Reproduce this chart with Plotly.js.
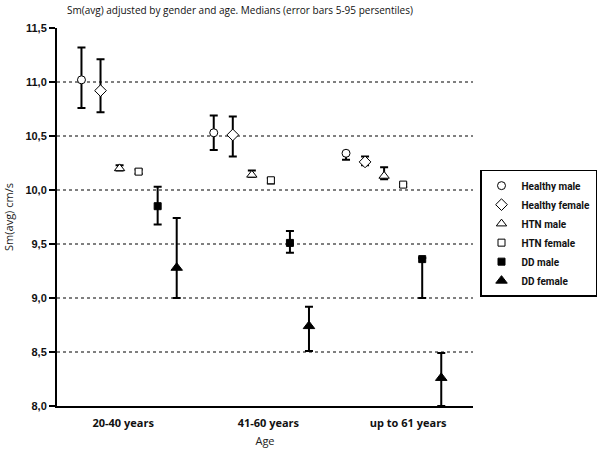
<!DOCTYPE html>
<html>
<head>
<meta charset="utf-8">
<script src="https://cdn.plot.ly/plotly-3.0.1.min.js"></script>
<style>html,body{margin:0;padding:0;background:#fff;}#chart{width:600px;height:450px;}</style>
</head>
<body>
<div id="chart"></div>
<script>
// Age groups (category index 0,1,2)
const categories = ['20-40 years', '41-60 years', 'up to 61 years'];
const seriesNames = ['Healthy male', 'Healthy female', 'HTN male', 'HTN female', 'DD male', 'DD female'];

// Medians per series (one value per age group)
const healthyMale   = [11.02, 10.53, 10.34];
const healthyFemale = [10.92, 10.51, 10.26];
const htnMale       = [10.20, 10.14, 10.13];
const htnFemale     = [10.17, 10.09, 10.05];
const ddMale        = [9.85, 9.51, 9.36];
const ddFemale      = [9.28, 8.74, 8.26];

// 95th percentile (upper end of error bar)
const healthyMaleP95   = [11.32, 10.69, 10.35];
const healthyFemaleP95 = [11.21, 10.68, 10.31];
const htnMaleP95       = [10.23, 10.18, 10.21];
const htnFemaleP95     = [10.19, 10.11, 10.06];
const ddMaleP95        = [10.03, 9.62, 9.37];
const ddFemaleP95      = [9.74, 8.92, 8.49];

// 5th percentile (lower end of error bar)
const healthyMaleP5   = [10.76, 10.37, 10.28];
const healthyFemaleP5 = [10.72, 10.31, 10.23];
const htnMaleP5       = [10.18, 10.12, 10.10];
const htnFemaleP5     = [10.15, 10.06, 10.03];
const ddMaleP5        = [9.68, 9.42, 9.00];
const ddFemaleP5      = [9.00, 8.51, 8.00];

const yTicks = [8.0, 8.5, 9.0, 9.5, 10.0, 10.5, 11.0, 11.5];
const gridValues = [8.5, 9.0, 9.5, 10.0, 10.5, 11.0];

const medians = [healthyMale, healthyFemale, htnMale, htnFemale, ddMale, ddFemale];
const uppers = [healthyMaleP95, healthyFemaleP95, htnMaleP95, htnFemaleP95, ddMaleP95, ddFemaleP95];
const lowers = [healthyMaleP5, healthyFemaleP5, htnMaleP5, htnFemaleP5, ddMaleP5, ddFemaleP5];

const symbols = ['circle', 'diamond', 'triangle-up', 'square', 'square', 'triangle-up'];
const fills = ['white', 'white', 'white', 'white', 'black', 'black'];
const sizes = [8, 9, 9, 7, 7, 10];
const offsetStep = 0.144;

const traces = seriesNames.map((name, s) => {
  const off = (s - 2.5) * offsetStep;
  return {
    type: 'scatter',
    mode: 'markers',
    name: name,
    x: categories.map((c, i) => i + off),
    y: medians[s],
    error_y: {
      type: 'data',
      symmetric: false,
      array: medians[s].map((m, i) => uppers[s][i] - m),
      arrayminus: medians[s].map((m, i) => m - lowers[s][i]),
      color: 'black',
      thickness: 2,
      width: 4
    },
    marker: {
      symbol: symbols[s],
      size: sizes[s],
      color: fills[s],
      line: {color: 'black', width: 1}
    },
    cliponaxis: false
  };
});

const shapes = gridValues.map(v => ({
  type: 'line', xref: 'paper', yref: 'y',
  x0: 0, x1: 1, y0: v, y1: v,
  line: {color: 'black', width: 1, dash: '3px,3px'},
  layer: 'below'
}));

const humanist = 'Open Sans, Noto Sans, sans-serif';

const layout = {
  width: 600, height: 450,
  paper_bgcolor: 'white', plot_bgcolor: 'white',
  margin: {l: 57, r: 127, t: 28, b: 44, autoexpand: false},
  separators: ',.',
  title: {
    text: 'Sm(avg) adjusted by gender and age. Medians (error bars 5-95 persentiles)',
    font: {family: humanist, size: 10, color: '#111'},
    x: 0.4, xanchor: 'center', y: 0.985, yanchor: 'top'
  },
  showlegend: true,
  legend: {
    xref: 'container', yref: 'container',
    x: 0.995, xanchor: 'right', y: 0.623, yanchor: 'top',
    bordercolor: 'black', borderwidth: 1.5, bgcolor: 'white',
    font: {family: 'Roboto, Open Sans, sans-serif', size: 10, color: '#111', weight: 'bold'},
    tracegroupgap: 0, itemwidth: 30
  },
  xaxis: {
    range: [-0.545, 2.6],
    tickvals: [-0.045, 1.053, 2.11],
    ticktext: categories,
    showgrid: false, zeroline: false,
    showline: true, linecolor: 'black', linewidth: 2,
    ticks: '', ticklabelstandoff: 6,
    tickfont: {family: humanist, size: 11, color: '#111', weight: 'bold'},
    title: {text: 'Age', font: {family: humanist, size: 11, color: '#222'}, standoff: 8}
  },
  yaxis: {
    range: [8, 11.5],
    tickvals: yTicks,
    tickformat: '.1f',
    showgrid: false, zeroline: false,
    showline: true, linecolor: 'black', linewidth: 2,
    ticks: 'outside', ticklen: 6, tickwidth: 2, tickcolor: 'black',
    tickfont: {family: 'Liberation Sans, Arial, sans-serif', size: 11, color: '#111', weight: 'bold'},
    title: {text: 'Sm(avg) cm/s', font: {family: humanist, size: 11, color: '#222'}, standoff: 10}
  },
  shapes: shapes
};

Plotly.newPlot('chart', traces, layout, {displayModeBar: false, staticPlot: true});
</script>
</body>
</html>
